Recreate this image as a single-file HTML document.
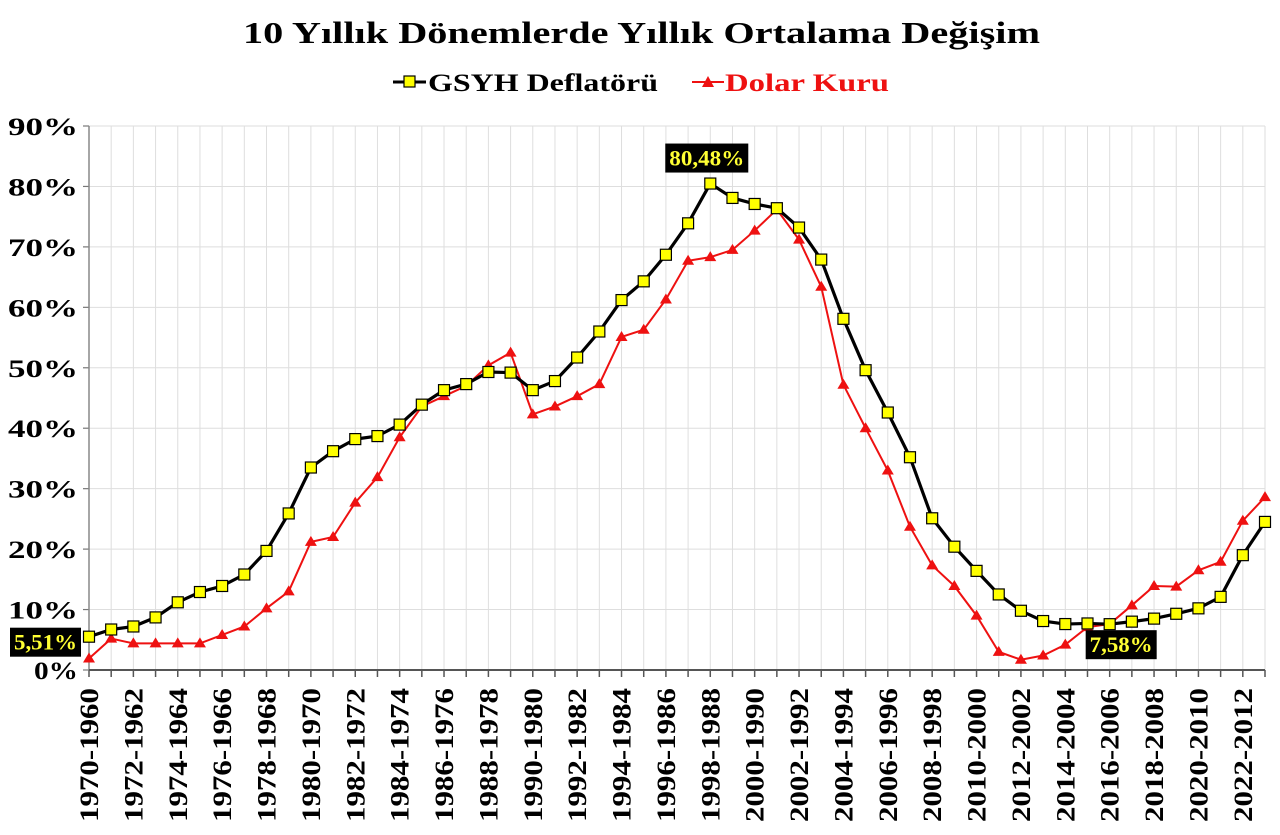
<!DOCTYPE html>
<html><head><meta charset="utf-8"><style>
body{margin:0;background:#fff;}
svg{display:block;font-family:"Liberation Serif",serif;font-weight:bold;}
</style></head><body>
<svg id="chart" width="1280" height="835" viewBox="0 0 1280 835" xmlns="http://www.w3.org/2000/svg">
<text x="243" y="43" font-size="31" fill="#000" textLength="797" lengthAdjust="spacingAndGlyphs">10 Yıllık Dönemlerde Yıllık Ortalama Değişim</text>
<g>
 <g>
  <line x1="393" y1="82" x2="426" y2="82" stroke="#000" stroke-width="3"/>
  <rect x="404" y="76" width="11" height="11" fill="#ffff00" stroke="#000" stroke-width="1.2"/>
  <text x="428" y="91" font-size="25" fill="#000" textLength="230" lengthAdjust="spacingAndGlyphs">GSYH Deflatörü</text>
 </g>
 <g>
  <line x1="692" y1="82" x2="724" y2="82" stroke="#ee1111" stroke-width="2"/>
  <path d="M708,76 L714,87 L702,87 Z" fill="#ee1111"/>
  <text x="725" y="91" font-size="25" fill="#ee1111" textLength="164" lengthAdjust="spacingAndGlyphs">Dolar Kuru</text>
 </g>
</g>
<g id="grid"></g>
<g id="axes"></g>
<g id="series"></g>
<g id="annots"></g>
</svg>
<script>
const categories = [];
for (let i = 0; i < 54; i++) categories.push((1970 + i) + '-' + (1960 + i));
const gsyhValues = [5.51,6.7,7.2,8.7,11.2,12.9,13.9,15.8,19.7,25.9,33.5,36.2,38.2,38.7,40.6,43.9,46.3,47.3,49.3,49.2,46.3,47.8,51.7,56.0,61.2,64.3,68.7,73.9,80.48,78.1,77.1,76.4,73.2,67.9,58.1,49.6,42.6,35.2,25.1,20.4,16.4,12.5,9.8,8.1,7.6,7.7,7.58,8.0,8.5,9.3,10.2,12.1,19.0,24.5];
const dolarValues = [1.9,5.2,4.4,4.4,4.4,4.4,5.8,7.2,10.2,13.0,21.2,22.0,27.7,31.9,38.5,43.6,45.3,47.0,50.4,52.5,42.3,43.6,45.3,47.3,55.1,56.3,61.3,67.7,68.3,69.5,72.7,76.2,71.2,63.4,47.2,40.0,33.0,23.7,17.3,13.9,9.0,3.0,1.7,2.4,4.2,7.1,7.6,10.7,13.9,13.8,16.5,17.9,24.7,28.6];
const yTicks = [0,10,20,30,40,50,60,70,80,90];
const yTickLabels = ['0%','10%','20%','30%','40%','50%','60%','70%','80%','90%'];
const annotations = [
 {series:'gsyh', index:28, text:'80,48%', dx:-45, dy:-40},
 {series:'gsyh', index:0, text:'5,51%', dx:-79, dy:-9},
 {series:'gsyh', index:46, text:'7,58%', dx:-24, dy:6}
];

const NS = 'http://www.w3.org/2000/svg';
const L = 89, R = 1265, T = 126, B = 670;
const xS = i => L + i * (R - L) / (categories.length - 1);
const yS = v => B - (v / 90) * (B - T);
function mk(tag, attrs, parent){ const e = document.createElementNS(NS, tag); for (const k in attrs) e.setAttribute(k, attrs[k]); parent.appendChild(e); return e; }
const grid = document.getElementById('grid'), axes = document.getElementById('axes'), series = document.getElementById('series'), ann = document.getElementById('annots');

categories.forEach((c, i) => {
  const g = mk('line', {x1:xS(i), x2:xS(i), y1:T, y2:B, stroke:'#dedede', 'stroke-width':1}, grid);
  
  
  const t = mk('line', {x1:xS(i), x2:xS(i), y1:B, y2:B+7, stroke:'#555', 'stroke-width':1.5}, axes);
  
  
  if (i % 2 === 0) {
    const lb = mk('text', {x:0, y:0, 'font-size':26, 'text-anchor':'end', textLength:134, lengthAdjust:'spacingAndGlyphs', transform:`translate(${xS(i)+9},688) rotate(-90)`}, axes);
    lb.textContent = c;
    
    
  }
});
yTicks.forEach((v, k) => {
  const g = mk('line', {x1:L, x2:R, y1:yS(v), y2:yS(v), stroke:'#dedede', 'stroke-width':1}, grid);
  
  
  const t = mk('line', {x1:L-6, x2:L, y1:yS(v), y2:yS(v), stroke:'#777', 'stroke-width':1.2}, axes);
  
  
  const lab = yTickLabels[k];
  const w = lab.length > 2 ? 70 : 44;
  const lb = mk('text', {x:78 - w, y:yS(v)+9, 'font-size':25, textLength:w, lengthAdjust:'spacingAndGlyphs'}, axes);
  lb.textContent = lab;
  
  
});
const ya = mk('line', {x1:L, x2:L, y1:T, y2:B, stroke:'#888', 'stroke-width':1.5}, axes);


const xa = mk('line', {x1:L, x2:R, y1:B, y2:B, stroke:'#555', 'stroke-width':2}, axes);



const dp = dolarValues.map((v, i) => xS(i) + ',' + yS(v)).join(' ');
const dl = mk('polyline', {points:dp, fill:'none', stroke:'#ee1111', 'stroke-width':2}, series);


const gp = gsyhValues.map((v, i) => xS(i) + ',' + yS(v)).join(' ');
const gl = mk('polyline', {points:gp, fill:'none', stroke:'#000', 'stroke-width':3.2, 'stroke-linejoin':'round'}, series);


dolarValues.forEach((v, i) => {
  const x = xS(i), y = yS(v);
  const m = mk('path', {d:`M${x},${y-6} L${x+6},${y+4} L${x-6},${y+4} Z`, fill:'#ee1111'}, series);
  
  
});
gsyhValues.forEach((v, i) => {
  const m = mk('rect', {x:xS(i)-5.5, y:yS(v)-5.5, width:11, height:11, fill:'#ffff00', stroke:'#000', 'stroke-width':1.2}, series);
  
  
});
annotations.forEach(a => {
  const v = (a.series === 'gsyh' ? gsyhValues : dolarValues)[a.index];
  const x = xS(a.index) + a.dx, y = yS(v) + a.dy;
  const g = mk('g', {}, ann);
  
  
  const w = a.text.length > 5 ? 83 : 71;
  mk('rect', {x:x, y:y, width:w, height:29, fill:'#000'}, g);
  const t = mk('text', {x:x + 4, y:y+22, 'font-size':22, fill:'#ffff33', textLength:w-8, lengthAdjust:'spacingAndGlyphs'}, g);
  t.textContent = a.text;
});
</script>
</body></html>
